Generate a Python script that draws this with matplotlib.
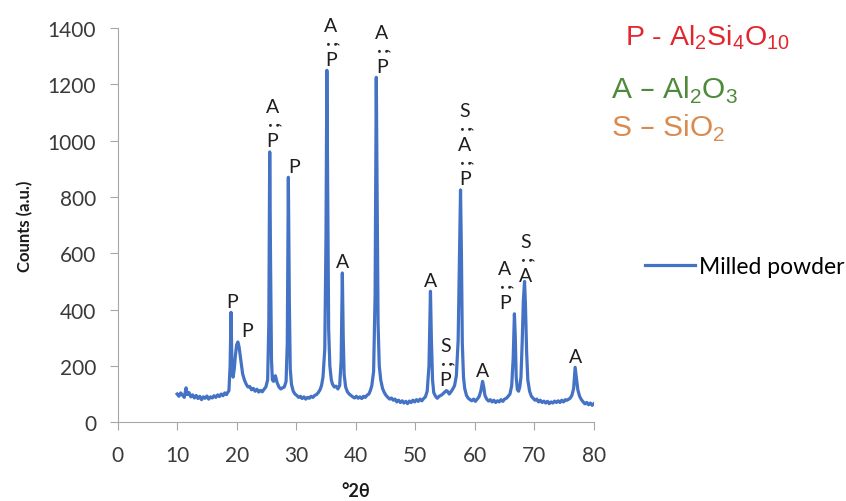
import matplotlib
matplotlib.use("Agg")
import matplotlib.pyplot as plt

plt.rcParams['font.family'] = ['Lato', 'DejaVu Sans']

# XRD pattern of the milled powder
two_theta = [
    10.0, 10.3, 10.6, 10.9, 11.2, 11.5, 11.7, 12.0, 12.3, 12.6, 12.9, 13.2, 13.5, 13.8, 14.1,
    14.4, 14.7, 15.0, 15.3, 15.6, 15.9, 16.2, 16.5, 16.8, 17.1, 17.4, 17.7, 18.0, 18.3, 18.5,
    18.7, 18.9, 19.05, 19.2, 19.4, 19.6, 19.8, 20.0, 20.2, 20.4, 20.6, 20.8, 21.0, 21.3, 21.6,
    21.9, 22.2, 22.5, 22.8, 23.1, 23.4, 23.7, 24.0, 24.3, 24.6, 24.9,
    25.2, 25.4, 25.55, 25.7, 25.85, 26.0, 26.2, 26.5, 26.8, 27.1, 27.4, 27.7, 28.0, 28.3, 28.5,
    28.68, 28.85, 29.0, 29.2, 29.5, 29.8,
    30.1, 30.4, 30.7, 31.0, 31.3, 31.6, 31.9, 32.2, 32.5, 32.8, 33.1, 33.4, 33.7, 34.0, 34.25,
    34.5, 34.8, 35.0, 35.15, 35.3, 35.45, 35.65, 35.9, 36.1, 36.4, 36.7, 37.0, 37.3, 37.55, 37.75,
    37.9, 38.05, 38.3, 38.6,
    38.9, 39.2, 39.5, 39.8, 40.1, 40.4, 40.7, 41.0, 41.3, 41.6, 41.9, 42.2, 42.45,
    42.7, 43.0, 43.25, 43.45, 43.6, 43.75, 43.95, 44.2, 44.5, 44.8,
    45.1, 45.4, 45.7, 46.0, 46.3, 46.6, 46.9, 47.2, 47.5, 47.8, 48.1, 48.4, 48.7, 49.0, 49.3,
    49.6, 49.9, 50.2, 50.5, 50.8, 51.1, 51.4,
    51.7, 52.0, 52.3, 52.55, 52.7, 52.9, 53.1, 53.4, 53.7, 54.0, 54.3, 54.6, 54.9, 55.2, 55.4,
    55.7, 56.0, 56.3, 56.6, 56.9, 57.2, 57.4, 57.6, 57.75, 57.9, 58.1, 58.3,
    58.6, 58.9, 59.2, 59.5, 59.8, 60.1, 60.4, 60.7, 61.0, 61.3, 61.5, 61.7, 62.0, 62.3, 62.6,
    62.9, 63.2, 63.5, 63.8, 64.1, 64.4, 64.7, 65.0, 65.3, 65.6, 65.9,
    66.2, 66.45, 66.65, 66.8, 66.95, 67.15, 67.35, 67.55, 67.75, 67.95, 68.15, 68.35, 68.5, 68.7, 68.9,
    69.2, 69.5, 69.8,
    70.1, 70.4, 70.7, 71.0, 71.3, 71.6, 71.9, 72.2, 72.5, 72.8, 73.1, 73.4, 73.7, 74.0, 74.3,
    74.6, 74.9, 75.2, 75.5, 75.8,
    76.0, 76.3, 76.6, 76.85, 77.05, 77.3, 77.6, 77.9, 78.2, 78.5, 78.8, 79.1, 79.4, 79.7, 80.0,
]
counts = [
    100, 92, 104, 96, 88, 122, 98, 105, 90, 97, 86, 95, 84, 92, 80,
    90, 85, 93, 82, 90, 86, 94, 88, 97, 91, 100, 94, 104, 98, 106,
    112, 200, 390, 210, 160, 190, 240, 275, 285, 268, 235, 200, 172, 150, 135,
    125, 127, 115, 120, 110, 117, 107, 113, 108, 117, 125,
    150, 350, 960, 550, 220, 150, 145, 165, 140, 125, 118, 122, 125, 145, 280,
    870, 420, 190, 135, 110, 100,
    95, 88, 92, 84, 90, 82, 88, 85, 92, 88, 95, 98, 105, 115, 130,
    160, 260, 650, 1250, 780, 330, 200, 150, 135, 125, 128, 118, 130, 220, 530,
    300, 170, 125, 108,
    100, 95, 90, 86, 92, 85, 90, 84, 92, 88, 96, 100, 112,
    130, 180, 450, 1225, 800, 350, 200, 150, 120, 105,
    95, 88, 82, 86, 78, 82, 72, 78, 70, 76, 68, 74, 66, 75, 70,
    78, 72, 80, 74, 82, 76, 84,
    90, 110, 200, 465, 300, 150, 105, 92, 85, 92, 95, 100, 106, 112, 110,
    100, 108, 118, 130, 165, 290, 560, 825, 600, 280, 160, 120,
    95, 85, 80, 76, 82, 74, 82, 90, 110, 145, 125, 95, 82, 75, 80,
    72, 78, 70, 76, 72, 80, 74, 82, 85, 92, 100,
    130, 230, 385, 300, 160, 115, 110, 125, 160, 280, 430, 500, 420, 250, 150,
    110, 92, 85,
    78, 82, 72, 78, 70, 75, 68, 74, 66, 72, 68, 75, 70, 76, 70,
    78, 72, 80, 78, 82,
    85, 95, 120, 195, 160, 115, 92, 80, 72, 65, 70, 62, 68, 60, 66,
]

# phase labels (bottom to top) over each peak
peak_pos = [19.05, 20.2, 25.55, 28.68, 35.15, 37.75, 43.45, 52.55, 55.3, 57.6, 61.3, 66.65, 68.35, 76.85]
peak_top = [390, 285, 960, 870, 1250, 530, 1225, 465, 112, 825, 145, 385, 500, 195]
peak_phases = ["P", "P", "PA", "P", "PA", "A", "PA", "A", "PS", "PAS", "A", "PA", "AS", "A"]
label_dx = [1, 7, 2, 4, 3, 0, 4, 0, -1, 3, 0, -7, 1, 0]   # points
label_dy = [4, 4, 4, 4, 4, 4, 4, 4, 4, 4, 4, 4, 0, 4]

fig = plt.figure(figsize=(8.46, 5.02), dpi=100)
ax = fig.add_axes([0.139, 0.157, 0.563, 0.785])

ax.plot(two_theta, counts, color='#4472C4', lw=2.3, label='Milled powder')

for x, y, ph, dx, dy in zip(peak_pos, peak_top, peak_phases, label_dx, label_dy):
    for j, letter in enumerate(ph):
        off = dy + j * 24.5
        ax.annotate(letter, (x, y), xytext=(dx, off), textcoords='offset points',
                    ha='center', va='baseline', fontsize=14, color='#1f1f1f')
        if j > 0:
            ax.annotate(';', (x, y), xytext=(dx, off - 7.5), textcoords='offset points',
                        ha='center', va='center', fontsize=14, fontweight='bold',
                        color='#262626', rotation=90)

ax.set_xlim(0, 80)
ax.set_ylim(0, 1400)
ax.set_xticks(range(0, 81, 10))
ax.set_yticks(range(0, 1401, 200))
for s in ['top', 'right']:
    ax.spines[s].set_visible(False)
for s in ['left', 'bottom']:
    ax.spines[s].set_color('#a6a6a6')
ax.tick_params(colors='#a6a6a6', labelcolor='#3a3a3a', labelsize=15, length=5.5, direction='out')
ax.tick_params(axis='x', pad=11)
ax.tick_params(axis='y', pad=10)
ax.set_ylabel('Counts (a.u.)', fontsize=12, fontweight='bold', color='#1a1a1a', labelpad=10)
ax.set_xlabel('°2θ', fontsize=13, fontweight='bold', color='#1a1a1a', labelpad=12)

fig.legend(loc='center left', bbox_to_anchor=(645 / 846, 1 - 268 / 502), frameon=False,
           borderpad=0, borderaxespad=0, handlelength=2.2, handletextpad=0.15, fontsize=16.5)

fig.text(625 / 846, 1 - 45 / 502,
         r'P - Al$_\mathregular{2}$Si$_\mathregular{4}$O$_\mathregular{10}$',
         family='Liberation Sans', fontsize=20.5, color='#e3262e', va='baseline')
fig.text(611 / 846, 1 - 99 / 502, r'A – Al$_\mathregular{2}$O$_\mathregular{3}$',
         family='Liberation Sans', fontsize=21.5, color='#4f8a3a', va='baseline')
fig.text(611 / 846, 1 - 137 / 502, r'S – SiO$_\mathregular{2}$',
         family='Liberation Sans', fontsize=21.5, color='#d98b4f', va='baseline')

fig.savefig('out.png', dpi=100)
